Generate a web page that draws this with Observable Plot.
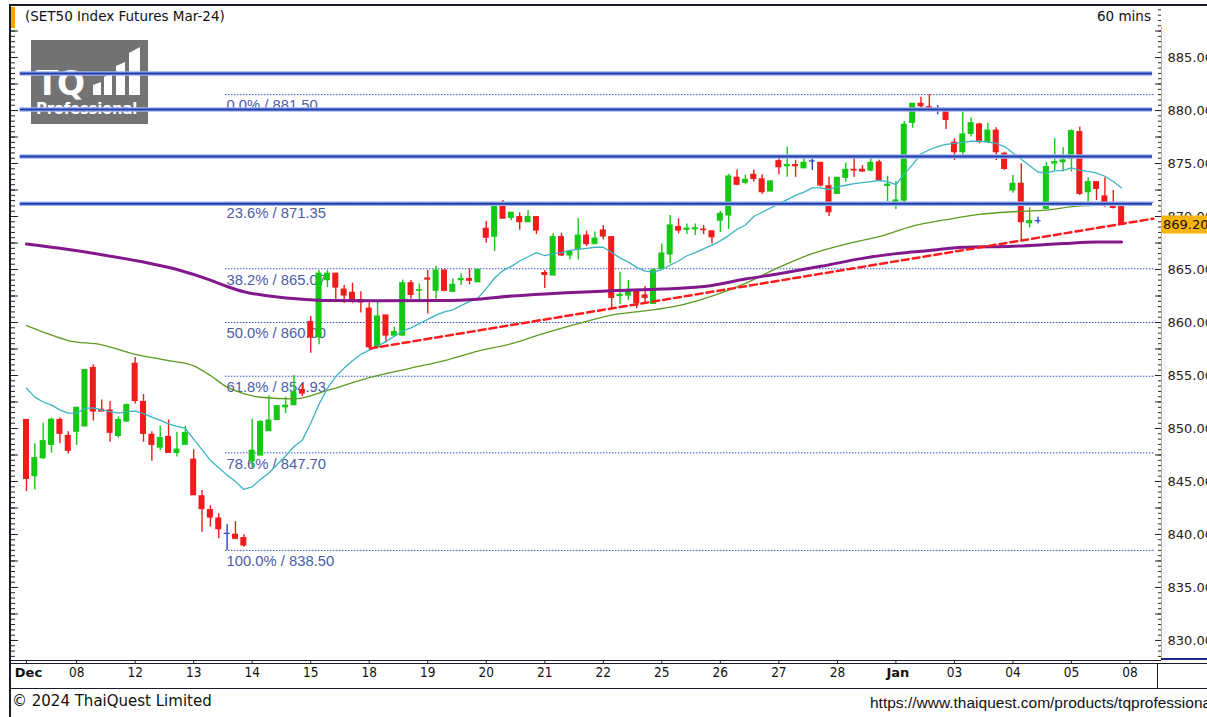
<!DOCTYPE html>
<html><head><meta charset="utf-8">
<script src="https://cdn.jsdelivr.net/npm/d3@7"></script>
<script src="https://cdn.jsdelivr.net/npm/@observablehq/plot@0.6"></script>
<style>
body{margin:0;background:#fff;}
#wrap{position:relative;width:1207px;height:717px;overflow:hidden;background:#fff;font-family:"DejaVu Sans",sans-serif;}
.abs{position:absolute;}
.ln{position:absolute;background:#1b1b2b;}
</style></head><body><div id="wrap">
<div id="logo" class="abs" style="left:31px;top:40px;width:117px;height:84px;background:#737373;">
  <div class="abs" style="left:5px;top:24px;color:#fff;font:bold 33px 'DejaVu Sans',sans-serif;letter-spacing:-1.5px;line-height:normal;">TQ</div>
  <svg class="abs" style="left:0;top:0" width="117" height="84">
    <polygon points="62,55 62,45 70,42 70,55" fill="#fff"/>
    <polygon points="73,55 73,37 81,33 81,55" fill="#fff"/>
    <polygon points="85,55 85,26 94,22 94,55" fill="#fff"/>
    <polygon points="98,55 98,13 109,7 109,55" fill="#fff"/>
  </svg>
  <div class="abs" style="left:5px;top:60px;color:#fff;font:bold 15px 'DejaVu Sans',sans-serif;letter-spacing:-0.3px;line-height:normal;">Professional</div>
</div>
<div id="chart" class="abs" style="left:0;top:0"></div>
<div class="abs" style="left:11px;top:7px;width:4px;height:21px;background:#f7a400;"></div>
<div class="abs" style="left:25px;top:8px;font-size:13.5px;color:#111;">(SET50 Index Futures Mar-24)</div>
<div class="abs" style="left:1097px;top:8px;font-size:13.5px;color:#111;">60 mins</div>
<div class="ln" style="left:10px;top:4px;width:1197px;height:2px;"></div>
<div class="ln" style="left:9px;top:4px;width:2px;height:713px;"></div>
<div class="abs" style="left:1161px;top:27px;width:1px;height:633px;background:#f0b400;"></div>
<div class="abs" style="left:1161px;top:658px;width:46px;height:2px;background:#1a2a8a;"></div>
<div class="ln" style="left:10px;top:660px;width:1151px;height:1px;"></div>
<div class="ln" style="left:10px;top:663px;width:1197px;height:1px;"></div>
<div class="ln" style="left:10px;top:688px;width:1197px;height:1px;"></div>
<div class="ln" style="left:1157px;top:663px;width:1px;height:25px;"></div>
<div class="abs" style="left:12px;top:692px;font-size:15px;color:#111;">© 2024 ThaiQuest Limited</div>
<div class="abs" style="left:870px;top:694px;font:15.5px 'Liberation Sans',Arial,sans-serif;color:#111;white-space:nowrap;">https://www.thaiquest.com/products/tqprofessional</div>
</div>
<script>
// ---------- DATA ----------
const open = [850.8,845.5,847.2,848.46,850.8,849.3,849.7,850.2,855.7,851.76,851.7,849.3,850.66,856.1,852.5,849.4,848.2,849.2,847.7,848.46,847.05,843.6,842.3,841.5,840.06,839.97,839.65,
846.9,847.45,849.75,850.8,852.0,852.2,853.6,860.03,858.6,864.0,864.6,863.1,862.8,862.1,861.3,857.67,860.66,858.77,858.77,863.7,863.0,864.15,863.0,864.9,862.9,864.0,864.1,863.8,
868.84,868.1,871.04,869.88,869.94,869.47,869.94,864.66,864.44,868.05,866.33,866.95,868.2,867.4,868.68,868.05,862.5,862.55,862.87,862.55,861.76,865.07,866.42,869.0,868.75,868.8,868.76,868.6,
869.62,870.1,873.65,873.18,873.93,873.5,872.36,875.22,874.75,874.85,874.56,875.2,875.06,872.86,872.14,873.65,874.4,874.4,874.34,875.1,872.9,
871.4,871.51,878.84,880.63,880.3,880.16,880.07,876.95,876.07,877.8,878.68,877.0,878.1,875.91,872.46,873.08,869.37,869.56,870.73,875.0,875.13,875.44,877.96,872.3,873.24,871.89,870.88,870.88];
const high = [850.8,848.55,850.5,850.97,851.0,849.7,852.0,855.6,856.0,852.7,852.55,851.1,852.3,856.7,853.2,849.7,850.2,850.8,849.65,850.2,848.0,844.15,842.7,841.95,840.95,841.2,839.97,
850.9,850.75,853.1,852.1,852.95,855.0,854.2,860.56,864.9,864.9,864.65,863.5,863.7,862.9,861.85,861.9,860.66,859.55,864.0,863.96,863.65,864.9,865.3,864.95,864.1,864.6,865.06,865.0,
869.53,871.04,871.5,870.35,870.35,870.57,869.94,864.9,868.37,868.43,866.8,869.78,868.62,868.53,869.15,868.05,864.75,863.97,862.87,863.4,865.07,867.4,870.1,869.78,869.3,869.3,869.15,868.6,
870.5,874.0,874.4,873.93,874.4,873.93,873.4,875.5,876.54,875.3,875.5,875.5,875.06,873.7,873.65,875.06,875.5,874.8,875.5,875.3,873.8,
873.3,878.96,880.63,881.26,881.5,880.47,880.07,877.33,879.85,879.3,878.8,878.8,878.37,876.07,873.87,874.97,870.82,869.94,875.13,877.33,876.48,878.18,878.43,873.65,873.24,873.65,872.46,871.04];
const low = [844.05,844.2,847.1,847.67,848.56,847.6,848.4,850.2,850.7,851.6,848.7,849.1,850.6,852.3,848.7,846.9,847.9,847.7,847.3,848.46,843.7,840.2,840.7,839.6,838.5,839.5,838.8,
846.3,847.45,849.75,850.8,851.4,852.2,853.0,857.1,857.9,863.3,862.2,861.8,861.8,860.9,857.5,857.6,858.1,858.6,858.7,862.2,861.9,860.8,862.2,862.9,862.9,863.5,863.55,863.8,
867.5,866.7,869.8,869.6,868.7,869.47,868.3,863.2,864.44,866.23,865.9,865.9,867.17,867.4,867.8,861.3,861.7,862.1,861.3,861.76,861.7,865.07,865.54,868.37,868.3,868.2,868.3,867.4,
868.5,868.8,872.9,872.99,873.24,872.1,872.36,873.93,873.7,873.7,874.5,874.34,872.77,870.0,872.14,873.24,873.7,874.2,874.2,873.4,871.4,
870.66,870.98,878.33,880.22,879.9,879.6,878.2,875.29,875.44,877.5,876.86,876.9,875.29,874.34,872.2,867.74,868.93,869.3,870.63,874.34,874.2,874.2,871.98,871.35,871.5,870.88,870.7,869.15];
const close = [845.25,847.2,848.8,850.82,849.5,847.9,851.95,855.5,851.6,851.6,849.6,850.8,852.2,852.6,849.5,848.46,849.1,847.7,848.0,849.56,843.7,842.4,841.6,840.5,840.06,839.6,838.96,
847.9,850.6,850.75,852.1,852.15,853.4,853.3,858.6,864.6,864.6,863.3,862.55,862.1,861.9,857.67,860.56,858.77,859.1,863.7,862.6,863.05,864.05,864.9,863.0,863.55,864.1,863.95,864.97,
868.0,871.04,869.8,870.35,869.47,869.94,868.68,864.5,868.05,866.33,866.64,868.2,867.4,867.9,868.12,862.33,862.6,862.87,861.83,862.33,864.9,866.5,869.15,868.68,868.85,868.88,868.72,868.05,
870.25,873.77,873.0,873.46,873.55,872.3,873.3,874.66,874.85,874.75,875.06,875.2,872.93,870.41,873.65,874.4,874.35,874.25,875.06,873.4,873.0,
871.51,878.65,880.63,880.41,880.2,880.16,879.12,876.07,877.74,878.8,877.11,878.1,876.07,874.5,873.08,869.47,869.56,869.56,874.66,875.13,875.29,878.05,872.14,873.24,872.61,871.35,870.82,869.2];

// short moving average (cyan), one value per bar
const cyanMA = [853.8,852.96,852.5,852.2,851.76,851.45,851.45,851.9,851.95,851.76,851.6,851.45,851.6,851.64,851.4,851.07,850.76,850.44,850.2,850.0,
849.0,848.0,847.0,846.3,845.6,845.0,844.25,844.5,845.2,845.8,846.6,847.4,848.3,848.9,850.5,852.3,853.8,854.9,855.7,856.4,
857.0,857.4,857.8,858.2,858.7,859.2,859.5,859.9,860.3,860.7,861.0,861.2,861.6,862.0,862.3,863.2,864.2,864.9,865.3,865.8,
866.2,866.6,866.3,866.5,866.6,866.8,866.9,867.0,867.1,867.1,866.6,866.1,865.7,865.2,864.85,864.75,865.0,865.4,865.8,866.3,
866.6,866.95,867.3,867.7,868.2,868.8,869.2,870.0,870.4,870.8,871.2,871.6,872.0,872.3,872.7,872.7,872.55,872.8,872.95,873.1,
873.2,873.3,873.4,873.3,873.0,874.0,874.9,875.9,876.3,876.6,876.8,876.9,877.0,877.1,877.1,877.05,876.9,876.6,876.0,875.4,
874.8,874.2,874.1,874.3,874.35,874.6,874.35,874.25,874.1,873.8,873.3,872.7];

// medium moving average (olive), read at sample bars
const oliveIdx = [0,2,5,9,13,17,20,22,24,26,28,32,36,41,46,50,54,58,62,66,70,74,78,82,86,90,94,98,102,106,110,114,118,122,126,131];
const oliveVal = [859.7,859.1,858.3,857.9,857.0,856.4,855.9,855.0,853.9,853.3,852.95,852.8,853.6,854.8,855.7,856.4,857.3,858.0,859.0,859.9,860.7,861.1,861.6,862.5,863.7,865.2,866.5,867.4,868.1,869.1,869.7,870.2,870.45,870.6,871.0,871.1];

// long moving average (purple), read at sample bars
const purpleIdx = [0,4,9,14,18,22,24,26,29,33,36,42,50,54,58,62,66,70,76,82,86,90,95,100,104,108,112,118,124,128,131];
const purpleVal = [867.4,867.0,866.4,865.7,865.0,864.0,863.4,862.9,862.5,862.2,862.08,862.05,862.07,862.2,862.5,862.7,862.85,863.0,863.15,863.5,864.1,864.6,865.3,866.05,866.5,866.8,867.1,867.2,867.45,867.6,867.6];

// red dashed trend line
const trendIdx = [41.1, 134.8];
const trendVal = [857.55, 869.8];

// horizontal resistance/support lines
const hLevels = [883.5, 880.1, 875.66, 871.2];

// Fibonacci retracement
const fibLevels = ["0.0%","23.6%","38.2%","50.0%","61.8%","78.6%","100.0%"];
const fibValues = [881.50,871.35,865.07,860.00,854.93,847.70,838.50];
const fibStart = 23.8, fibEnd = 135.05;

// x axis (trading days, first bar index of each day)
const dayIdx = [0,6,13,20,27,34,41,48,55,62,69,76,83,90,97,104,111,118,125,132];
const dayLab = ["Dec","08","12","13","14","15","18","19","20","21","22","25","26","27","28","Jan","03","04","05","08"];
const dayBold = ["Dec","Jan"];

// y axis
const yLabels = [830,835,840,845,850,855,860,865,870,875,880,885];
const lastPrice = 869.20;

// ---------- CHART ----------
const W = 1207, H = 690, ML = 11, MR = 46, MT = 5, MB = 30;
const PW = W - ML - MR;
const GREEN = "#14c814", RED = "#f21a1a", DOJI = "#2a44c4";
const candles = open.map((o, i) => ({i, o, h: high[i], l: low[i], c: close[i]}));
const col = d => d.c > d.o ? GREEN : d.c < d.o ? RED : DOJI;
const minor = d3.range(828.5, 889.9, 0.5);
const mid = d3.range(830, 889.9, 2.5);
const tickFont = "'DejaVu Sans',sans-serif";
const axisFont = "'DejaVu Sans Condensed','DejaVu Sans',sans-serif";

const chart = Plot.plot({
  width: W, height: H,
  marginLeft: ML, marginRight: MR, marginTop: MT, marginBottom: MB,
  style: {background: "transparent", fontFamily: tickFont, fontSize: "13px", color: "#222"},
  x: {domain: [-1.79, 135.77]},
  y: {domain: [828.11, 889.91]},
  color: {type: "identity"},
  marks: [
    Plot.ruleY(fibValues, {x1: fibStart, x2: fibEnd, y: d => d, stroke: "#3550c8", strokeWidth: 1, strokeDasharray: "1.5,1.5"}),
    Plot.text(fibValues, {x: fibStart, y: d => d, text: (d, i) => `${fibLevels[i]} / ${d.toFixed(2)}`, textAnchor: "start", dx: 1, dy: 11, fill: "#4d5ca8", fontSize: 14.8, fontFamily: "'Liberation Sans',Arial,sans-serif"}),
    Plot.ruleX(candles, {x: "i", y1: "l", y2: "h", stroke: col, strokeWidth: 1.4}),
    Plot.rect(candles, {x1: d => d.i - 0.36, x2: d => d.i + 0.36, y1: "o", y2: "c", fill: col, insetTop: -0.6, insetBottom: -0.6}),
    Plot.line(oliveIdx, {x: d => d, y: (d, k) => oliveVal[k], stroke: "#5e9a22", strokeWidth: 1.3, curve: "monotone-x"}),
    Plot.line(cyanMA, {x: (d, k) => k, y: d => d, stroke: "#3db4c2", strokeWidth: 1.3}),
    Plot.line(purpleIdx, {x: d => d, y: (d, k) => purpleVal[k], stroke: "#82188c", strokeWidth: 3, curve: "monotone-x"}),
    Plot.ruleY(hLevels, {x1: -0.75, x2: 134.7, y: d => d, stroke: "#9fb2ea", strokeWidth: 4.5}),
    Plot.ruleY(hLevels, {x1: -0.75, x2: 134.7, y: d => d, stroke: "#1f3cae", strokeWidth: 2}),
    Plot.line(trendIdx, {x: d => d, y: (d, k) => trendVal[k], stroke: "#ff1c1c", strokeWidth: 2.5, strokeDasharray: "7,4"}),
    // tick marks on left and right edges
    Plot.ruleY(minor, {y: d => d, insetLeft: PW - 3, stroke: "#222", strokeWidth: 1}),
    Plot.ruleY(mid, {y: d => d, insetLeft: PW - 6, stroke: "#222", strokeWidth: 1}),
    Plot.ruleY(minor, {y: d => d, insetRight: PW - 4, stroke: "#222", strokeWidth: 1}),
    Plot.ruleY(mid, {y: d => d, insetRight: PW - 7, stroke: "#222", strokeWidth: 1}),
    Plot.axisY(yLabels, {anchor: "right", tickSize: 0, tickPadding: 6, tickFormat: d => d.toFixed(2), label: null, fontSize: 13, fill: "#222"}),
    Plot.axisX(dayIdx, {anchor: "bottom", tickSize: 3, tickFormat: () => "", label: null}),
    Plot.text(dayIdx.filter((d, k) => !dayBold.includes(dayLab[k])), {x: d => d, frameAnchor: "bottom", dy: 16, text: d => dayLab[dayIdx.indexOf(d)], fontSize: 13.5, fontFamily: axisFont, fill: "#111"}),
    Plot.text(dayIdx.filter((d, k) => dayBold.includes(dayLab[k])), {x: d => d, frameAnchor: "bottom", dy: 16, dx: 2, text: d => dayLab[dayIdx.indexOf(d)], fontSize: 13, fontWeight: "bold", fill: "#111"})
  ]
});
document.getElementById("chart").appendChild(chart);

// last price tag, positioned through the y scale
const yp = chart.scale("y").apply(lastPrice);
const svg = d3.select(chart);
svg.append("rect").attr("x", W - MR).attr("y", yp - 9).attr("width", MR).attr("height", 18).attr("fill", "#f8b40a");
svg.append("text").attr("x", W - MR + 2).attr("y", yp).attr("dy", "0.35em").attr("text-anchor", "start")
  .attr("font-size", 13).attr("font-family", tickFont).attr("fill", "#111").text(lastPrice.toFixed(2));
</script>
</body></html>
